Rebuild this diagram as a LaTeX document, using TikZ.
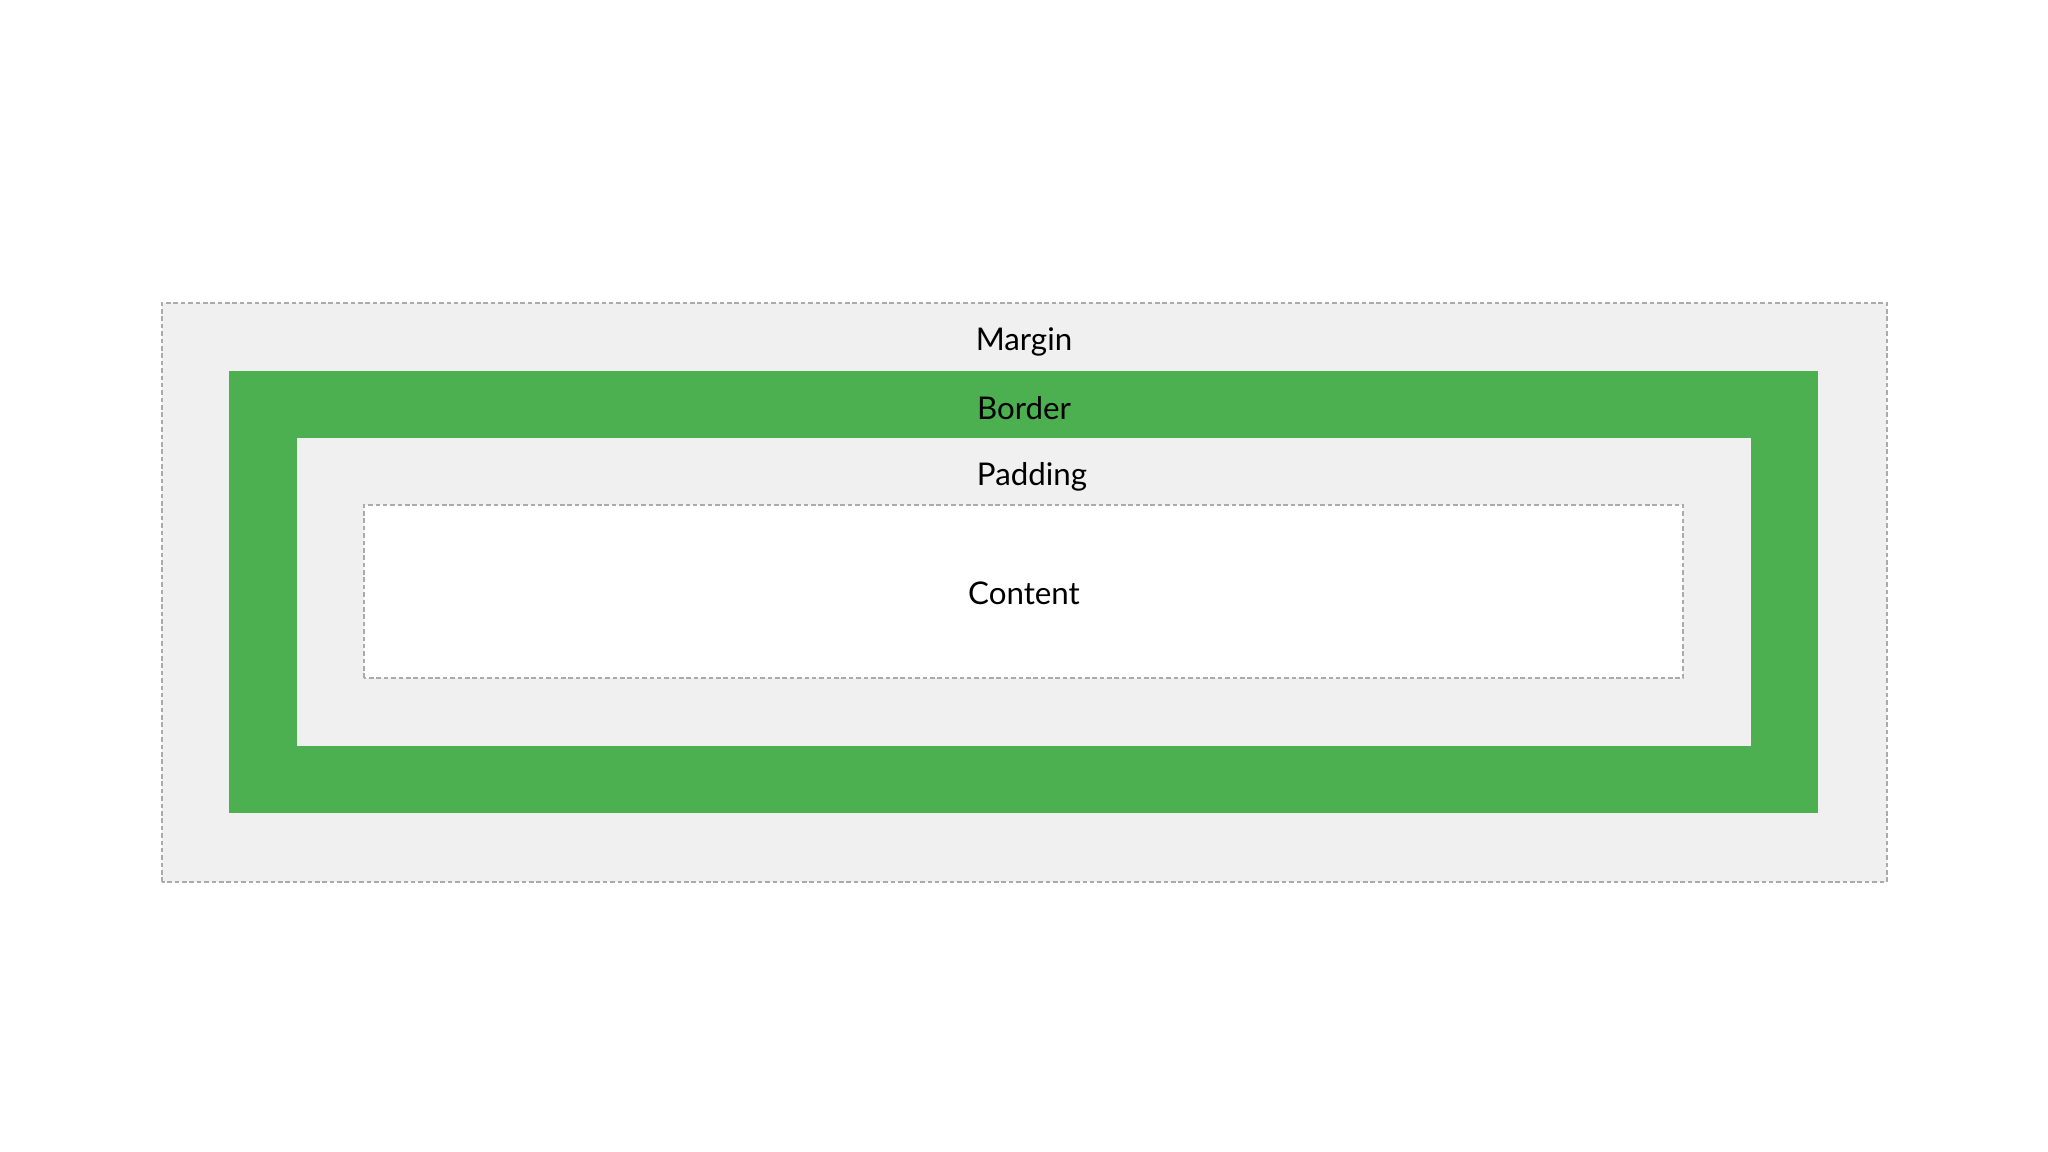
\documentclass[tikz,border=0pt]{standalone}
\usepackage{fontspec}
\setmainfont{Lato}
\usepackage{xcolor}
\usetikzlibrary{positioning}

\definecolor{boxgreen}{HTML}{4CAF50}
\definecolor{boxgray}{HTML}{F0F0F0}
\definecolor{dashgray}{HTML}{ABABAB}

\begin{document}
\begin{tikzpicture}[
    layer/.style={font=\fontsize{8.9}{11}\selectfont, text=black},
    dashedge/.style={draw=dashgray, line width=0.7pt, dash pattern=on 1.3pt off 0.8pt}
  ]
    \useasboundingbox (0,0) rectangle (20.48,11.52);

    % Margin
    \draw[dashedge, fill=boxgray] (1.62,2.70) rectangle (18.87,8.49);
    \node[layer] (margin) at (10.24,8.10) {Margin};

    % Border
    \fill[boxgreen] (2.29,3.39) rectangle (18.18,7.81);
    \node[layer] (border) at (10.24,7.44) {Border};

    % Padding
    \fill[boxgray] (2.97,4.06) rectangle (17.51,7.14);
    \node[layer] (padding) at (10.32,6.75) {Padding};

    % Content
    \draw[dashedge, fill=white] (3.64,4.74) rectangle (16.83,6.47);
    \node[layer] (content) at (10.24,5.59) {Content};
\end{tikzpicture}
\end{document}
